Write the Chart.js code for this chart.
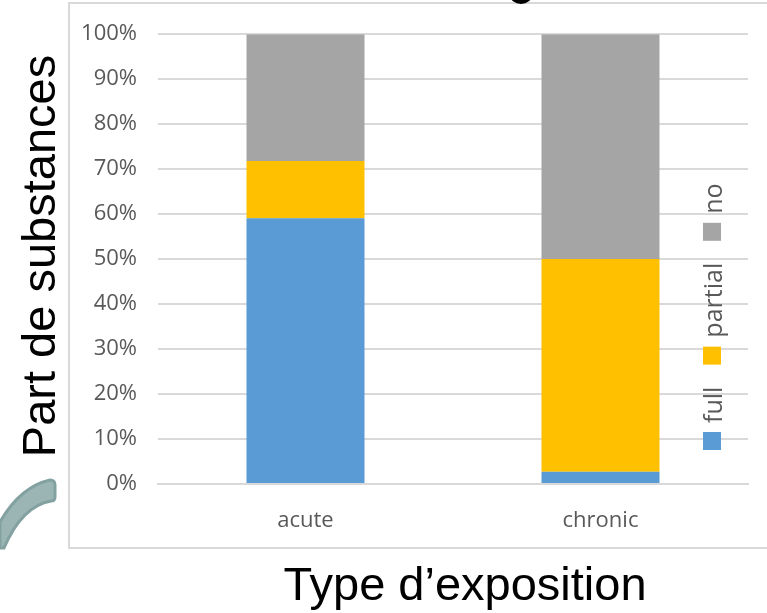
<!DOCTYPE html>
<html>
<head>
<meta charset="utf-8">
<script src="https://cdn.jsdelivr.net/npm/chart.js@4.4.1/dist/chart.umd.min.js"></script>
<style>
  html, body { margin: 0; padding: 0; background: #ffffff; }
  #wrap { width: 767px; height: 613px; position: relative; }
</style>
</head>
<body>
<div id="wrap"><canvas id="c"></canvas></div>
<script>
// Exposure types on the x axis
const categories = ['acute', 'chronic'];
// Share of substances (%) per coverage level
const seriesNames = ['full', 'partial', 'no'];
const fullValues = [59.1, 2.7];
const partialValues = [12.7, 47.3];
const noValues = [28.2, 50.0];
const seriesColors = ['#5b9bd5', '#ffc000', '#a5a5a5'];
const yTitle = 'Part de substances';
const xTitle = 'Type d\u2019exposition';

const TEXT_GREY = '#595959';
const LINE_GREY = '#d9d9d9';

// Frame, outer titles, vertical legend and the small ornament at the left
const decorations = {
  id: 'decorations',
  beforeDraw(chart) {
    const ctx = chart.ctx;
    ctx.save();
    // frame around the plot
    ctx.strokeStyle = LINE_GREY;
    ctx.lineWidth = 2;
    ctx.beginPath();
    ctx.moveTo(800, 3);
    ctx.lineTo(69, 3);
    ctx.lineTo(69, 548);
    ctx.lineTo(800, 548);
    ctx.stroke();

    // bottom of a heading glyph peeking in at the top
    ctx.fillStyle = '#000000';
    ctx.beginPath();
    ctx.ellipse(521, -5, 11, 9, 0, 0, Math.PI * 2);
    ctx.fill();

    // curved ornament
    ctx.beginPath();
    ctx.moveTo(0, 522);
    ctx.quadraticCurveTo(20, 487, 50, 480);
    ctx.quadraticCurveTo(55, 480, 55, 485);
    ctx.lineTo(55, 497);
    ctx.quadraticCurveTo(55, 501, 51, 501);
    ctx.quadraticCurveTo(22, 506, 4, 548);
    ctx.lineTo(0, 548);
    ctx.closePath();
    ctx.fillStyle = '#9bb5b5';
    ctx.fill();
    ctx.strokeStyle = '#84a1a1';
    ctx.lineWidth = 3;
    ctx.stroke();
    ctx.restore();
  },
  afterDraw(chart) {
    const ctx = chart.ctx;
    ctx.save();
    // axis titles
    ctx.fillStyle = '#000000';
    ctx.font = '47px "Liberation Sans", Arial, sans-serif';
    ctx.textAlign = 'center';
    ctx.textBaseline = 'alphabetic';
    ctx.fillText(xTitle, 465, 600);
    ctx.save();
    ctx.translate(55, 256);
    ctx.rotate(-Math.PI / 2);
    ctx.fillText(yTitle, 0, 0);
    ctx.restore();

    // legend, read bottom to top
    ctx.font = '25px "Open Sans", sans-serif';
    ctx.textAlign = 'left';
    ctx.textBaseline = 'alphabetic';
    let y = 450;
    const box = 18;
    chart.data.datasets.forEach((ds) => {
      ctx.fillStyle = ds.backgroundColor;
      ctx.fillRect(703, y - box, box, box);
      const start = y - box - 9;
      const w = ctx.measureText(ds.label).width;
      ctx.save();
      ctx.translate(722, start);
      ctx.rotate(-Math.PI / 2);
      ctx.fillStyle = TEXT_GREY;
      ctx.fillText(ds.label, 0, 0);
      ctx.restore();
      y = start - w - 22;
    });
    ctx.restore();
  }
};

const valueLists = [fullValues, partialValues, noValues];

new Chart(document.getElementById('c'), {
  type: 'bar',
  data: {
    labels: categories,
    datasets: seriesNames.map((name, i) => ({
      label: name,
      data: valueLists[i],
      backgroundColor: seriesColors[i],
      borderWidth: 0,
      categoryPercentage: 0.8,
      barPercentage: 0.5
    }))
  },
  options: {
    responsive: true,
    maintainAspectRatio: false,
    devicePixelRatio: 1,
    animation: false,
    layout: { padding: { left: 68, right: 19, top: 28, bottom: 0 } },
    plugins: {
      legend: { display: false },
      tooltip: { enabled: false },
      title: { display: false }
    },
    scales: {
      x: {
        stacked: true,
        grid: { display: false, drawTicks: false },
        border: { display: true, color: LINE_GREY, width: 2 },
        ticks: {
          color: TEXT_GREY,
          padding: 24,
          font: { family: '"Open Sans", sans-serif', size: 22 }
        },
        afterFit(scale) { scale.height = 129; }
      },
      y: {
        stacked: true,
        min: 0,
        max: 100,
        grid: { color: LINE_GREY, lineWidth: 2, drawTicks: false },
        border: { display: false },
        ticks: {
          stepSize: 10,
          color: TEXT_GREY,
          padding: 21,
          font: { family: '"Open Sans", sans-serif', size: 22 },
          callback: (v) => v + '%'
        },
        afterFit(scale) { scale.width = 90; }
      }
    }
  },
  plugins: [decorations]
});
</script>
</body>
</html>
